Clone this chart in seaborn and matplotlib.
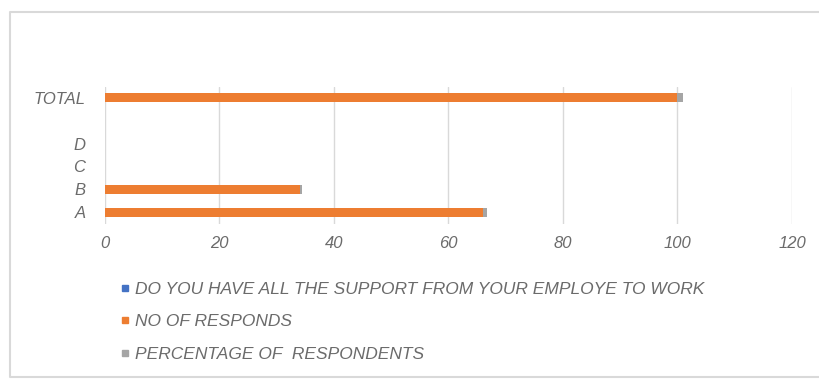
import pandas as pd
import matplotlib.pyplot as plt
import seaborn as sns
from matplotlib.lines import Line2D

sns.set_style("white")
plt.rcParams['font.family'] = ['Liberation Sans', 'DejaVu Sans']

# data
categories = ['A', 'B', 'C', 'D', '', 'TOTAL']
support = [0, 0, 0, 0, 0, 0]
responds = [66, 34, 0, 0, 0, 100]
percentage = [0.66, 0.34, 0, 0, 0, 1.0]
series_names = ['DO YOU HAVE ALL THE SUPPORT FROM YOUR EMPLOYE TO WORK',
                'NO OF RESPONDS',
                'PERCENTAGE OF  RESPONDENTS']
x_ticks = [0, 20, 40, 60, 80, 100, 120]

colors = ['#4472C4', '#ED7D31', '#A5A5A5']
text_color = '#6b6b6b'

df = pd.DataFrame({'cat': categories, 'support': support,
                   'responds': responds, 'pct': percentage})
df['stack2'] = df['support'] + df['responds']
df['stack3'] = df['stack2'] + df['pct']
order = categories[::-1]

fig = plt.figure(figsize=(8.2, 3.8), dpi=100)
ax = fig.add_axes([105 / 820, 1 - 223.5 / 380, 687 / 820, 137 / 380])

# stacked bars: draw cumulative totals back to front
for col, c in zip(['stack3', 'stack2', 'support'], colors[::-1]):
    sns.barplot(data=df, y='cat', x=col, order=order, orient='h',
                color=c, width=0.4, saturation=1, linewidth=0, ax=ax)

ax.set_xlim(0, 120)
ax.set_xticks(x_ticks)
ax.grid(axis='x', color='#d9d9d9', linewidth=1)
ax.set_axisbelow(True)
for s in ax.spines.values():
    s.set_visible(False)
ax.set_xlabel('')
ax.set_ylabel('')
ax.tick_params(axis='both', length=0, labelsize=12, colors=text_color)
ax.tick_params(axis='x', pad=9)
ax.tick_params(axis='y', pad=14)
for lbl in ax.get_xticklabels() + ax.get_yticklabels():
    lbl.set_fontstyle('italic')

handles = [Line2D([0], [0], marker='s', linestyle='none', markersize=5,
                  markerfacecolor=c, markeredgecolor=c) for c in colors]
leg = fig.legend(handles, series_names, loc='upper left',
                 bbox_to_anchor=(104 / 820, 1 - 266 / 380), frameon=False,
                 handlelength=0.6, handletextpad=0.3, labelspacing=1.0,
                 prop={'size': 12.5, 'style': 'italic'})
for t in leg.get_texts():
    t.set_color(text_color)

# chart frame: left, top and bottom edges (right edge is cropped off)
x0, y0, y1 = 10 / 820, 3 / 380, 1 - 12 / 380
fig.add_artist(Line2D([1.0, x0, x0, 1.0], [y1, y1, y0, y0],
                      transform=fig.transFigure, color='#d9d9d9', lw=1.5))

fig.savefig('out.png', dpi=100)
